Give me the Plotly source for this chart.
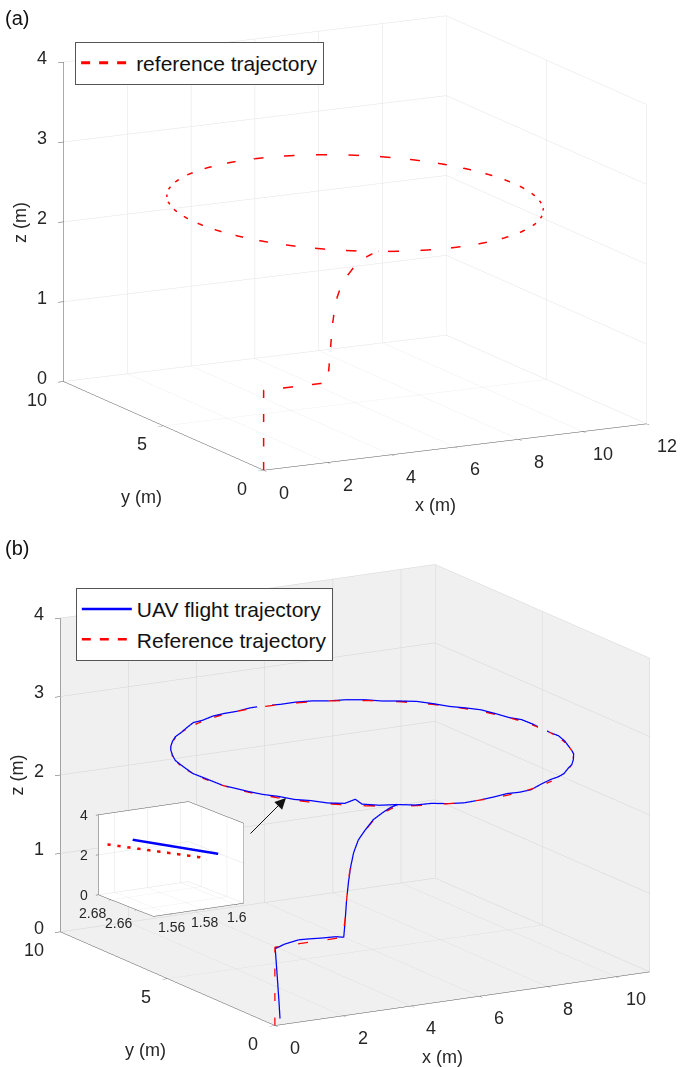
import plotly.graph_objects as go

# ---------------- data ----------------
# reference trajectory: take-off, step in x, climb, then circle (centre (6,5), r=5, z=2.5)
ref_x = [0.0, 0.0, 2.0, 2.05, 2.10, 2.15, 2.22, 2.30, 2.45, 2.65, 2.95, 3.30, 3.60,
         3.887, 4.290, 4.706, 5.132, 5.564, 6.000, 6.436, 6.868, 7.294, 7.710, 8.113, 8.500,
         8.868, 9.214, 9.536, 9.830, 10.096, 10.330, 10.532, 10.698, 10.830, 10.924, 10.981, 11.000,
         10.981, 10.924, 10.830, 10.698, 10.532, 10.330, 10.096, 9.830, 9.536, 9.214, 8.868, 8.500,
         8.113, 7.710, 7.294, 6.868, 6.436, 6.000, 5.564, 5.132, 4.706, 4.290, 3.887, 3.500,
         3.132, 2.786, 2.464, 2.170, 1.904, 1.670, 1.468, 1.302, 1.170, 1.076, 1.019, 1.000,
         1.019, 1.076, 1.170, 1.302, 1.468, 1.670, 1.904, 2.170, 2.464, 2.786, 3.132, 3.500, 3.887]
ref_y = [0.0, 0.0, 0.0, 0.0, 0.0, 0.0, 0.0, 0.0, 0.02, 0.05, 0.10, 0.20, 0.32,
         0.468, 0.302, 0.170, 0.076, 0.019, 0.000, 0.019, 0.076, 0.170, 0.302, 0.468, 0.670,
         0.904, 1.170, 1.464, 1.786, 2.132, 2.500, 2.887, 3.290, 3.706, 4.132, 4.564, 5.000,
         5.436, 5.868, 6.294, 6.710, 7.113, 7.500, 7.868, 8.214, 8.536, 8.830, 9.096, 9.330,
         9.532, 9.698, 9.830, 9.924, 9.981, 10.000, 9.981, 9.924, 9.830, 9.698, 9.532, 9.330,
         9.096, 8.830, 8.536, 8.214, 7.868, 7.500, 7.113, 6.710, 6.294, 5.868, 5.436, 5.000,
         4.564, 4.132, 3.706, 3.290, 2.887, 2.500, 2.132, 1.786, 1.464, 1.170, 0.904, 0.670, 0.468]
ref_z = [0.0, 1.0, 1.0, 1.20, 1.45, 1.70, 1.90, 2.05, 2.20, 2.30, 2.42, 2.48, 2.50] + [2.5] * 73

# measured UAV flight trajectory
uav_x = [0.15, 0.12, 0.08, 0.04, 0.01, 0.30, 0.70, 1.00, 1.40, 1.80, 2.02, 2.06, 2.10, 2.16, 2.23,
         2.31, 2.46, 2.66, 2.95, 3.30, 3.60,
         3.90, 4.30, 4.71, 5.14, 5.57, 6.01, 6.44, 6.87, 7.29, 7.71, 8.12, 8.51,
         8.87, 9.21, 9.54, 9.84, 10.10, 10.34, 10.54, 10.70, 10.84, 10.93, 10.99, 11.01,
         10.99, 10.93, 10.84, 10.70, 10.53, 10.33, 10.09, 9.83, 9.53, 9.21, 8.86, 8.50,
         8.11, 7.71, 7.29, 6.87, 6.44, 6.00, 5.56, 5.13, 4.70, 4.29, 3.88, 3.49,
         3.13, 2.79, 2.46, 2.17, 1.90, 1.67, 1.47, 1.30, 1.17, 1.08, 1.02, 1.00,
         1.02, 1.08, 1.17, 1.30, 1.47, 1.67, 1.91, 2.17, 2.47, 2.79, 2.99, 3.13, 3.50, 3.89]
uav_y = [0.00, 0.00, 0.00, 0.00, 0.00, 0.01, 0.00, 0.02, 0.00, 0.01, 0.00, 0.00, 0.00, 0.00, 0.00,
         0.00, 0.02, 0.05, 0.10, 0.20, 0.32,
         0.46, 0.29, 0.17, 0.08, 0.03, 0.01, 0.03, 0.09, 0.18, 0.31, 0.47, 0.66,
         0.90, 1.16, 1.46, 1.79, 2.13, 2.50, 2.89, 3.30, 3.71, 4.14, 4.57, 5.00,
         5.44, 5.87, 6.30, 6.71, 7.12, 7.51, 7.87, 8.22, 8.54, 8.83, 9.10, 9.34,
         9.54, 9.71, 9.84, 9.93, 9.99, 10.01, 9.99, 9.93, 9.84, 9.70, 9.54, 9.34,
         9.10, 8.83, 8.54, 8.21, 7.87, 7.50, 7.11, 6.71, 6.29, 5.87, 5.44, 5.00,
         4.56, 4.13, 3.70, 3.29, 2.89, 2.50, 2.13, 1.79, 1.46, 1.17, 1.00, 0.91, 0.68, 0.47]
uav_z = [0.08, 0.30, 0.55, 0.80, 0.98, 1.02, 1.05, 1.04, 1.03, 1.02, 1.00, 1.20, 1.45, 1.70, 1.90,
         2.06, 2.21, 2.31, 2.43, 2.49, 2.52,
         2.52, 2.51, 2.52, 2.50, 2.49, 2.50, 2.51, 2.52, 2.50, 2.49, 2.52, 2.53,
         2.51, 2.50, 2.52, 2.50, 2.51, 2.52, 2.50, 2.50, 2.51, 2.52, 2.50, 2.50,
         2.51, 2.52, 2.50, 2.51, 2.52, 2.51, 2.50, 2.51, 2.52, 2.51, 2.50, 2.51,
         2.51, 2.50, 2.51, 2.51, 2.50, 2.51, 2.51, 2.50, 2.51, 2.52, 2.51, 2.53,
         2.51, 2.50, 2.51, 2.51, 2.50, 2.51, 2.51, 2.50, 2.51, 2.51, 2.50, 2.51,
         2.51, 2.50, 2.51, 2.51, 2.51, 2.52, 2.51, 2.52, 2.51, 2.52, 2.58, 2.52, 2.51, 2.52]

# zoomed-in detail (inset)
inset_ref_x = [1.5544, 1.5830]
inset_ref_y = [2.6886, 2.6475]
inset_ref_z = [2.5, 2.5]
inset_uav_x = [1.5707, 1.5930]
inset_uav_y = [2.6904, 2.6515]
inset_uav_z = [2.5, 2.5]

# axis ranges and tick labels
a_xrange, a_yrange, a_zrange = [0, 12], [0, 10], [0, 4]
b_xrange, b_yrange, b_zrange = [0, 11], [0, 10], [0, 4]
a_xticks = [0, 2, 4, 6, 8, 10, 12]
b_xticks = [0, 2, 4, 6, 8, 10]
yticks = [0, 5, 10]
zticks = [0, 1, 2, 3, 4]
i_xrange, i_yrange, i_zrange = [1.55, 1.605], [2.647, 2.69], [0, 4]
i_xticks = [1.56, 1.58, 1.6]
i_yticks = [2.66, 2.68]
i_zticks = [0, 2, 4]

# ---------------- style ----------------
FONT = "Liberation Sans"
DARK = "#262626"
RED = "#ff0000"
BLUE = "#0000ff"
TICK_SIZE = 18
S_MAIN = 1.8     # orthographic zoom of the main boxes
S_INSET = 1.65   # orthographic zoom of the inset box


def fmt(v):
    s = ("%.2f" % v).rstrip("0").rstrip(".")
    return s


def axis(rng, tickvals, bg, grid, ticklen=6, mirror=False):
    return dict(
        title=dict(text=""),
        range=rng,
        autorange=False,
        showbackground=True,
        backgroundcolor=bg,
        gridcolor=grid,
        gridwidth=1,
        showline=True,
        mirror=mirror,
        linecolor="#555555",
        linewidth=1,
        ticks="outside",
        ticklen=ticklen,
        tickcolor="#555555",
        zeroline=False,
        showspikes=False,
        showticklabels=False,
        tickmode="array",
        tickvals=tickvals,
    )


def labels(xr, yr, zr, xt, yt, zt, size, off, titles=True):
    f = dict(family=FONT, size=size, color=DARK)
    ann = []
    for t in xt:
        ann.append(dict(x=t, y=yr[0], z=zr[0], text=fmt(t), showarrow=False,
                        xshift=off["x"][0], yshift=off["x"][1], font=f))
    for t in yt:
        ann.append(dict(x=xr[0], y=t, z=zr[0], text=fmt(t), showarrow=False, xanchor="right",
                        xshift=off["y"][0], yshift=off["y"][1], font=f))
    for t in zt:
        ann.append(dict(x=xr[0], y=yr[1], z=t, text=fmt(t), showarrow=False, xanchor="right",
                        xshift=off["z"][0], yshift=off["z"][1], font=f))
    if titles:
        ann.append(dict(x=(xr[0] + xr[1]) / 2, y=yr[0], z=zr[0], text="x (m)", showarrow=False,
                        xshift=-20, yshift=-58, font=f))
        ann.append(dict(x=xr[0], y=(yr[0] + yr[1]) / 2, z=zr[0], text="y (m)", showarrow=False,
                        xshift=-22, yshift=-71, font=f))
        ann.append(dict(x=xr[0], y=yr[1], z=(zr[0] + zr[1]) / 2, text="z (m)", showarrow=False,
                        textangle=-90, xshift=-44, yshift=0, font=f))
    return ann


main_off = {"x": (20, -22), "y": (-15, -18), "z": (-15, 4)}
inset_off = {"x": (2, -13), "y": (-3, -13), "z": (-8, 0)}

fig = go.Figure()

# (a)
fig.add_trace(go.Scatter3d(x=ref_x, y=ref_y, z=ref_z, mode="lines",
                           line=dict(color=RED, width=3, dash="dash"),
                           name="reference trajectory", scene="scene", legend="legend",
                           showlegend=True))
# (b)
fig.add_trace(go.Scatter3d(x=uav_x, y=uav_y, z=uav_z, mode="lines",
                           line=dict(color=BLUE, width=2.5),
                           name="UAV flight trajectory", scene="scene2", legend="legend2"))
fig.add_trace(go.Scatter3d(x=ref_x, y=ref_y, z=ref_z, mode="lines",
                           line=dict(color=RED, width=2.5, dash="dash"),
                           name="Reference trajectory", scene="scene2", legend="legend2"))
# inset
fig.add_trace(go.Scatter3d(x=inset_uav_x, y=inset_uav_y, z=inset_uav_z, mode="lines",
                           line=dict(color=BLUE, width=5), scene="scene3", showlegend=False))
fig.add_trace(go.Scatter3d(x=inset_ref_x, y=inset_ref_y, z=inset_ref_z, mode="lines",
                           line=dict(color=RED, width=5, dash="longdash"), scene="scene3",
                           showlegend=False))


def cam(ex, ey, ez):
    return dict(eye=dict(x=ex, y=ey, z=ez), up=dict(x=0, y=0, z=1),
                center=dict(x=0, y=0, z=0), projection=dict(type="orthographic"))


legend_style = dict(xanchor="left", yanchor="top", bgcolor="white", bordercolor="#555555",
                    borderwidth=1, itemwidth=50,
                    font=dict(family=FONT, size=21, color="#111111"))

fig.update_layout(
    width=683, height=1067,
    margin=dict(l=0, r=0, t=0, b=0),
    paper_bgcolor="white",
    font=dict(family=FONT, color=DARK),
    scene=dict(
        domain=dict(x=[0.04, 1.0], y=[0.547, 0.997]),
        xaxis=axis(a_xrange, a_xticks, "white", "#e3e3e3"),
        yaxis=axis(a_yrange, yticks, "white", "#e3e3e3"),
        zaxis=axis(a_zrange, zticks, "white", "#e3e3e3"),
        aspectmode="manual", aspectratio=dict(x=S_MAIN, y=S_MAIN, z=0.76 * S_MAIN),
        camera=cam(-0.4507 * 2, -0.8621 * 2, 0.2317 * 2),
        annotations=labels(a_xrange, a_yrange, a_zrange, a_xticks, yticks, zticks,
                           TICK_SIZE, main_off),
    ),
    scene2=dict(
        domain=dict(x=[0.04, 1.0], y=[0.03, 0.48]),
        xaxis=axis(b_xrange, b_xticks, "#f0f0f0", "#d4d4d4"),
        yaxis=axis(b_yrange, yticks, "#f0f0f0", "#d4d4d4"),
        zaxis=axis(b_zrange, zticks, "#f0f0f0", "#d4d4d4"),
        aspectmode="manual", aspectratio=dict(x=S_MAIN, y=S_MAIN, z=0.75 * S_MAIN),
        camera=cam(-0.481 * 2, -0.840 * 2, 0.250 * 2),
        annotations=labels(b_xrange, b_yrange, b_zrange, b_xticks, yticks, zticks,
                           TICK_SIZE, main_off),
    ),
    scene3=dict(
        domain=dict(x=[0.12, 0.38], y=[0.135, 0.255]),
        xaxis=axis(i_xrange, i_xticks, "white", "#e3e3e3", ticklen=3, mirror=True),
        yaxis=axis(i_yrange, i_yticks, "white", "#e3e3e3", ticklen=3, mirror=True),
        zaxis=axis(i_zrange, i_zticks, "white", "#e3e3e3", ticklen=3, mirror=True),
        aspectmode="manual", aspectratio=dict(x=S_INSET, y=S_INSET, z=0.78 * S_INSET),
        camera=cam(-0.506 * 2, -0.829 * 2, 0.240 * 2),
        annotations=labels(i_xrange, i_yrange, i_zrange, i_xticks, i_yticks, i_zticks,
                           14, inset_off, titles=False),
    ),
    legend=dict(x=0.11, y=0.961, **legend_style),
    legend2=dict(x=0.111, y=0.449, **legend_style),
    annotations=[
        dict(text="(a)", x=0.005, y=0.995, xref="paper", yref="paper", xanchor="left",
             yanchor="top", showarrow=False, font=dict(family=FONT, size=20, color="#111111")),
        dict(text="(b)", x=0.005, y=0.499, xref="paper", yref="paper", xanchor="left",
             yanchor="top", showarrow=False, font=dict(family=FONT, size=20, color="#111111")),
        dict(text="", x=286 / 683, y=1 - 798 / 1067, xref="paper", yref="paper",
             ax=-37, ay=37, showarrow=True, arrowhead=2, arrowsize=2.2, arrowwidth=1,
             arrowcolor="#111111"),
    ],
)

fig.write_html("out.html")
